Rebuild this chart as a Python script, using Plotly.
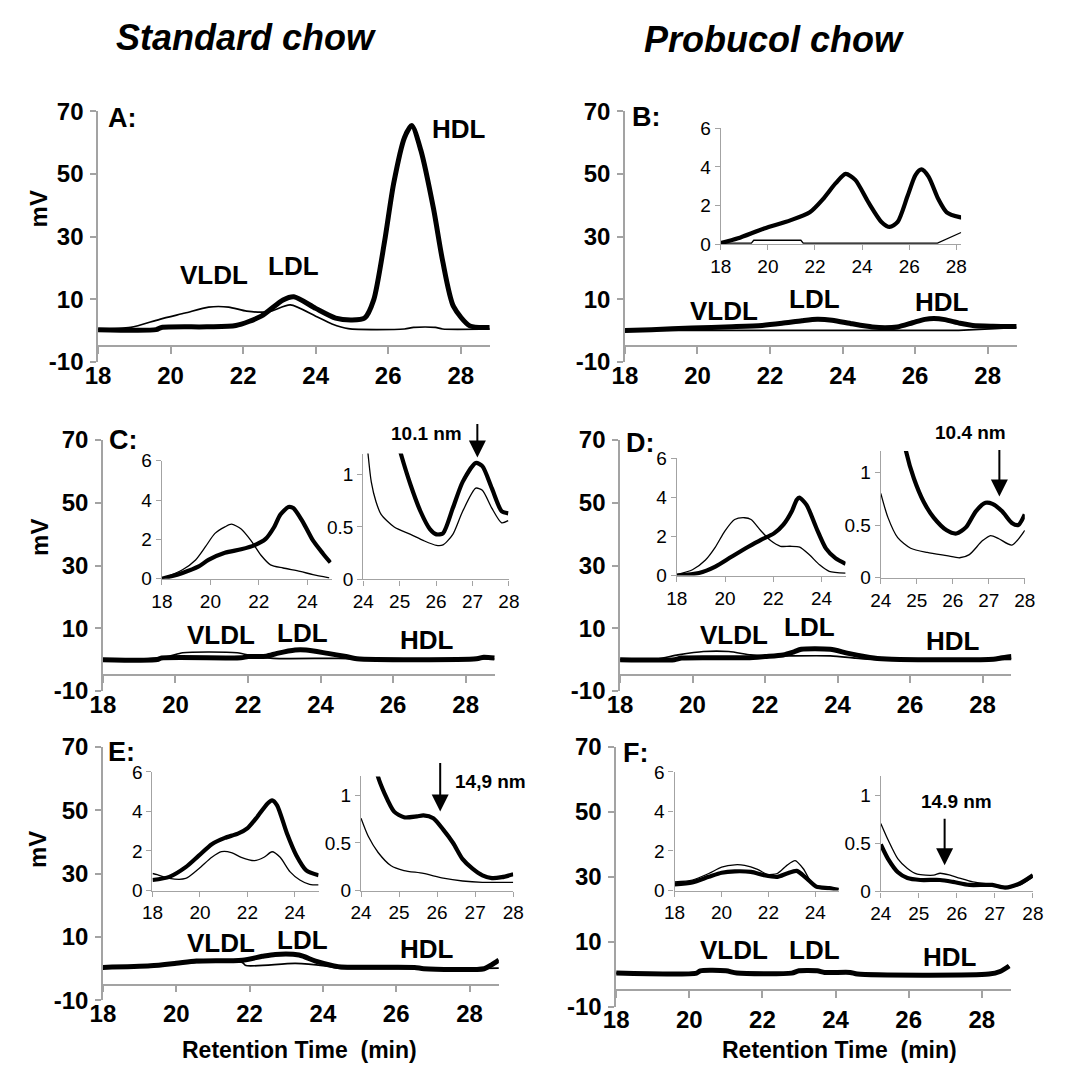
import plotly.graph_objects as go

# ---------------- data: retention time (min) vs detector signal (mV) ----------------
# Panel A (standard chow) – main trace
A_thick_x = [18, 19.6, 19.75, 21.0, 21.8, 22.5, 23.1, 23.4, 24.0, 24.55, 25.0, 25.35, 25.6, 25.9, 26.15, 26.45, 26.65, 26.9, 27.25, 27.5, 27.8, 28.25, 28.8]
A_thick_y = [0.3, 0.3, 1.0, 1.2, 1.6, 4.6, 9.8, 10.8, 7.1, 4.0, 3.4, 4.0, 9.8, 28.5, 47, 61.7, 65.5, 57.6, 38.9, 22.3, 7.7, 1.5, 1.0]
A_thin_x = [18, 18.9, 19.7, 20.4, 21.05, 21.6, 22.1, 22.7, 23.3, 24.0, 24.45, 24.9, 26.45, 26.7, 27.3, 27.5, 28.8]
A_thin_y = [0.4, 1.0, 3.6, 5.6, 7.5, 7.5, 6.2, 6.0, 8.2, 4.6, 2.1, 0.6, 0.5, 1.0, 1.0, 0.5, 0.5]

# Panel B (probucol chow) – main and inset share the same trace
B_thick_x = [18, 18.73, 19.84, 20.95, 21.78, 22.33, 22.88, 23.3, 23.71, 24.27, 24.82, 25.17, 25.51, 25.93, 26.27, 26.52, 26.82, 27.24, 27.59, 28.14, 28.8]
B_thick_y = [0.05, 0.3, 0.81, 1.23, 1.65, 2.32, 3.16, 3.64, 3.33, 2.16, 1.15, 0.89, 1.15, 2.49, 3.59, 3.87, 3.5, 2.32, 1.65, 1.4, 1.3]
B_thin_x = [18, 19.3, 19.4, 21.4, 21.5, 27.2, 28.2, 28.8]
B_thin_y = [0.05, 0.05, 0.2, 0.2, 0.05, 0.05, 0.6, 1.0]

# Panel C
C_thick_x = [18, 19.5, 19.6, 21.8, 22.0, 22.5, 22.8, 23.3, 23.6, 24.2, 24.7, 25.0, 28.3, 28.5, 28.8]
C_thick_y = [0, 0, 0.5, 0.6, 1.0, 1.1, 2.0, 3.1, 3.1, 2.0, 1.0, 0.3, 0.3, 0.8, 0.5]
C_thin_x = [18, 19.0, 19.8, 20.2, 21.7, 22.2, 22.7, 24.5, 25.0, 28.8]
C_thin_y = [0, 0.2, 1.0, 2.2, 2.2, 1.0, 0.4, 0.4, 0.2, 0.2]
CL_thick_x = [18, 18.85, 19.52, 19.92, 20.6, 21.27, 21.81, 22.28, 22.62, 22.89, 23.22, 23.42, 23.83, 24.23, 24.64, 24.95]
CL_thick_y = [0, 0.3, 0.63, 0.96, 1.32, 1.5, 1.7, 2.03, 2.61, 3.27, 3.65, 3.6, 2.86, 1.95, 1.29, 0.83]
CL_thin_x = [18, 18.85, 19.39, 19.79, 20.19, 20.6, 20.87, 21.27, 21.67, 22.08, 22.48, 23.0, 23.7, 24.23, 24.9]
CL_thin_y = [0, 0.46, 0.96, 1.62, 2.31, 2.64, 2.78, 2.53, 1.95, 1.21, 0.71, 0.55, 0.38, 0.21, 0.05]
CR_thick_x = [24.8, 25.03, 25.3, 25.57, 25.83, 26.01, 26.19, 26.46, 26.73, 27.09, 27.27, 27.53, 27.8, 27.98]
CR_thick_y = [1.5, 1.2, 0.9, 0.65, 0.48, 0.43, 0.44, 0.68, 0.93, 1.11, 1.08, 0.87, 0.65, 0.63]
CR_thin_x = [24.05, 24.13, 24.22, 24.35, 24.49, 24.85, 25.3, 25.66, 26.01, 26.19, 26.46, 26.73, 27.09, 27.27, 27.53, 27.8, 27.98]
CR_thin_y = [1.5, 1.2, 0.93, 0.74, 0.62, 0.5, 0.43, 0.37, 0.325, 0.33, 0.43, 0.65, 0.87, 0.85, 0.68, 0.54, 0.56]

# Panel D
D_thick_x = [18, 19.5, 19.7, 21.5, 22.0, 22.5, 22.8, 23.0, 23.8, 24.3, 25.0, 25.5, 28.3, 28.5, 28.8]
D_thick_y = [0, 0, 0.5, 0.6, 1.0, 1.5, 2.5, 3.3, 3.3, 2.0, 0.5, 0.1, 0.1, 0.5, 1.0]
D_thin_x = [18, 19.0, 19.6, 20.3, 21.0, 21.6, 22.0, 23.8, 24.5, 25.0, 28.8]
D_thin_y = [0, 0.2, 1.5, 2.6, 2.6, 1.5, 1.2, 1.2, 0.5, 0.1, 0.1]
DL_thick_x = [18, 18.92, 19.6, 20.27, 20.95, 21.49, 22.03, 22.43, 22.77, 22.97, 23.08, 23.38, 23.78, 24.19, 24.59, 25.0]
DL_thick_y = [0, 0.13, 0.46, 0.96, 1.46, 1.83, 2.16, 2.62, 3.29, 3.87, 3.99, 3.62, 2.46, 1.38, 0.88, 0.6]
DL_thin_x = [18, 18.65, 19.19, 19.6, 20.0, 20.4, 20.81, 21.08, 21.49, 21.89, 22.3, 22.7, 23.1, 23.51, 23.92, 24.32, 25.0]
DL_thin_y = [0.05, 0.3, 0.8, 1.46, 2.29, 2.87, 2.96, 2.87, 2.29, 1.79, 1.5, 1.5, 1.46, 1.05, 0.55, 0.22, 0.13]
DR_thick_x = [24.6, 24.7, 24.92, 25.19, 25.47, 25.83, 26.1, 26.37, 26.64, 26.91, 27.1, 27.37, 27.64, 27.82, 28.0]
DR_thick_y = [1.4, 1.2, 0.94, 0.72, 0.57, 0.45, 0.42, 0.48, 0.63, 0.71, 0.70, 0.63, 0.52, 0.5, 0.6]
DR_thin_x = [24.0, 24.2, 24.47, 24.83, 25.29, 25.83, 26.19, 26.46, 26.82, 27.05, 27.28, 27.64, 28.0]
DR_thin_y = [0.8, 0.57, 0.38, 0.28, 0.24, 0.21, 0.19, 0.22, 0.35, 0.4, 0.37, 0.31, 0.45]

# Panel E
E_thick_x = [18, 19.3, 20.0, 20.55, 21.8, 22.35, 22.7, 23.35, 23.8, 24.3, 24.5, 26.5, 26.75, 28.4, 28.6, 28.8]
E_thick_y = [0.4, 0.9, 1.7, 2.4, 2.7, 3.9, 4.5, 4.3, 2.4, 0.9, 0.5, 0.4, 0.0, 0.0, 1.2, 2.7]
E_thin_x = [18, 19.3, 20.55, 21.8, 21.9, 23.25, 24.05, 24.4, 28.8]
E_thin_y = [0.4, 0.9, 2.0, 2.0, 1.0, 1.7, 0.9, 0.2, 0.2]
EL_thick_x = [18, 18.71, 19.4, 19.95, 20.5, 21.05, 21.6, 22.01, 22.42, 22.84, 23.04, 23.25, 23.66, 24.07, 24.48, 25.0]
EL_thick_y = [0.53, 0.69, 1.18, 1.76, 2.34, 2.66, 2.88, 3.16, 3.73, 4.39, 4.56, 4.31, 2.91, 1.76, 1.02, 0.77]
EL_thin_x = [18, 18.2, 18.71, 19.4, 19.95, 20.5, 20.91, 21.32, 21.74, 22.29, 22.7, 23.04, 23.38, 23.8, 24.21, 24.62, 25.0]
EL_thin_y = [0.86, 0.8, 0.61, 0.61, 1.1, 1.68, 1.96, 1.92, 1.68, 1.51, 1.68, 1.96, 1.68, 0.94, 0.53, 0.31, 0.28]
ER_thick_x = [24.35, 24.43, 24.62, 24.87, 25.13, 25.47, 25.64, 25.9, 26.16, 26.42, 26.67, 26.93, 27.19, 27.44, 27.7, 28.0]
ER_thick_y = [1.4, 1.22, 1.02, 0.83, 0.77, 0.78, 0.79, 0.76, 0.64, 0.5, 0.33, 0.23, 0.16, 0.13, 0.14, 0.17]
ER_thin_x = [24.0, 24.19, 24.45, 24.79, 25.13, 25.64, 26.16, 26.67, 27.19, 28.0]
ER_thin_y = [0.76, 0.57, 0.4, 0.26, 0.21, 0.18, 0.13, 0.1, 0.086, 0.086]

# Panel F
F_thick_x = [18, 20.2, 20.3, 21.0, 21.3, 22.8, 23.0, 23.5, 23.7, 24.4, 24.6, 28.2, 28.5, 28.75]
F_thick_y = [0.3, 0.3, 1.0, 1.0, 0.3, 0.3, 1.0, 1.0, 0.5, 0.5, 0.0, 0.0, 0.8, 2.5]
F_thin_x = [18, 20.2, 20.4, 21.0, 21.3, 22.8, 23.0, 23.5, 23.7, 24.4, 24.6, 28.2, 28.5, 28.75]
F_thin_y = [0.3, 0.4, 1.1, 1.1, 0.4, 0.4, 1.3, 1.3, 0.5, 0.5, 0.1, 0.1, 0.8, 2.5]
FL_thick_x = [18, 18.76, 19.46, 20.01, 20.57, 21.26, 21.82, 22.38, 22.79, 23.21, 23.63, 24.04, 24.6, 25.0]
FL_thick_y = [0.31, 0.41, 0.69, 0.9, 0.97, 0.94, 0.77, 0.69, 0.86, 0.99, 0.61, 0.2, 0.12, 0.03]
FL_thin_x = [18, 18.76, 19.46, 20.01, 20.57, 20.99, 21.54, 21.96, 22.38, 22.79, 23.14, 23.49, 23.9, 24.46, 25.0]
FL_thin_y = [0.44, 0.53, 0.86, 1.18, 1.3, 1.27, 1.07, 0.81, 0.86, 1.27, 1.51, 1.1, 0.31, 0.15, 0.08]
FR_thick_x = [24.0, 24.19, 24.45, 24.7, 25.04, 25.56, 25.9, 26.33, 26.93, 27.27, 27.61, 28.0]
FR_thick_y = [0.49, 0.34, 0.2, 0.14, 0.12, 0.12, 0.1, 0.068, 0.068, 0.04, 0.075, 0.17]
FR_thin_x = [24.0, 24.19, 24.45, 24.7, 24.96, 25.39, 25.56, 25.82, 26.07, 26.42, 26.93, 27.36, 27.7, 28.0]
FR_thin_y = [0.71, 0.54, 0.34, 0.24, 0.18, 0.17, 0.19, 0.17, 0.14, 0.1, 0.075, 0.05, 0.075, 0.15]

# tick labels
MAIN_XTICKS = [18, 20, 22, 24, 26, 28]
MAIN_YTICKS = [-10, 10, 30, 50, 70]
MAIN_YTEXT = ["-10", "10", "30", "50", "70"]
WIDE_INSET_XTICKS = [18, 20, 22, 24, 26, 28]
LEFT_INSET_XTICKS = [18, 20, 22, 24]
RIGHT_INSET_XTICKS = [24, 25, 26, 27, 28]
LEFT_INSET_YTICKS = [0, 2, 4, 6]
RIGHT_INSET_YTICKS = [0, 0.5, 1]
RIGHT_INSET_YTEXT = ["0", "0.5", "1"]

# ---------------- figure ----------------
W, H = 1070, 1079
AXC = "#a3a3a3"
FONT = "Liberation Sans, Arial, Helvetica, sans-serif"

fig = go.Figure()
lay = dict(width=W, height=H, margin=dict(l=0, r=0, t=0, b=0),
           paper_bgcolor="white", plot_bgcolor="rgba(0,0,0,0)",
           showlegend=False, hovermode=False)
counter = {"n": 0}


def px_x(p):
    return p / W


def px_y(p):
    return 1 - p / H


def axes(x0, x1, ytop, ybot, xrange, yrange, xticks, yticks, kind, ytext=None):
    counter["n"] += 1
    n = counter["n"]
    s = "" if n == 1 else str(n)
    if kind == "main":
        tf = dict(family=FONT, size=24, color="black", weight="bold")
        xlen, ylen, lw = 7, 6, 1.5
    else:
        tf = dict(family=FONT, size=19, color="black")
        xlen, ylen, lw = 5, 5, 1.3
    xa = dict(domain=[px_x(x0), px_x(x1)], range=xrange, anchor="y" + s,
              tickvals=xticks, ticks="outside", ticklen=xlen, tickcolor=AXC, tickwidth=lw,
              showline=True, linecolor=AXC, linewidth=lw, showgrid=False, zeroline=False,
              tickfont=tf, fixedrange=True)
    ya = dict(domain=[px_y(ybot), px_y(ytop)], range=yrange, anchor="x" + s,
              tickvals=yticks, ticks="outside", ticklen=ylen, tickcolor=AXC, tickwidth=lw,
              showline=True, linecolor=AXC, linewidth=lw, showgrid=False, zeroline=False,
              tickfont=tf, fixedrange=True)
    if ytext is not None:
        ya["ticktext"] = ytext
    if kind == "main":
        ypos = ybot - (ybot - ytop) * 5 / 80  # horizontal axis crosses at -5 mV
        xa.update(anchor="free", position=px_y(ypos), ticklabelstandoff=1)
        ya.update(ticklabelstandoff=2)
    lay["xaxis" + s] = xa
    lay["yaxis" + s] = ya
    return "x" + s, "y" + s


def line(ax, xs, ys, w, shape="spline"):
    fig.add_trace(go.Scatter(x=xs, y=ys, xaxis=ax[0], yaxis=ax[1], mode="lines",
                             line=dict(color="black", width=w, shape=shape, smoothing=0.7),
                             hoverinfo="skip"))


def pair(ax, tx, ty, kx, ky, thin_w, thick_w, thin_shape="spline"):
    line(ax, tx, ty, thin_w, thin_shape)
    line(ax, kx, ky, thick_w)


MAIN_Y = [-10, 70]
MAIN_X = [18, 28.8]

# A
axA = axes(87, 487.7, 100, 356.8, MAIN_X, MAIN_Y, MAIN_XTICKS, MAIN_YTICKS, "main", MAIN_YTEXT)
pair(axA, A_thin_x, A_thin_y, A_thick_x, A_thick_y, 1.7, 5)
# B
axB = axes(626, 1026.7, 100, 356.8, MAIN_X, MAIN_Y, MAIN_XTICKS, MAIN_YTICKS, "main", MAIN_YTEXT)
pair(axB, B_thin_x, B_thin_y, B_thick_x, B_thick_y, 1.7, 5, "linear")
axBi = axes(724, 969.8, 117.3, 236, [18, 28.2], [0, 6], WIDE_INSET_XTICKS, LEFT_INSET_YTICKS, "inset")
pair(axBi, B_thin_x, B_thin_y, B_thick_x, B_thick_y, 1.3, 4.2, "linear")
# C
axC = axes(92, 492.7, 437, 694.4, MAIN_X, MAIN_Y, MAIN_XTICKS, MAIN_YTICKS, "main", MAIN_YTEXT)
pair(axC, C_thin_x, C_thin_y, C_thick_x, C_thick_y, 1.7, 5)
axCL = axes(152.3, 325.9, 458.3, 579.3, [18, 25], [0, 6], LEFT_INSET_XTICKS, LEFT_INSET_YTICKS, "inset")
pair(axCL, CL_thin_x, CL_thin_y, CL_thick_x, CL_thick_y, 1.3, 4.2)
axCR = axes(358.3, 507.3, 450.8, 580, [24, 28], [0, 1.2], RIGHT_INSET_XTICKS, RIGHT_INSET_YTICKS, "inset", RIGHT_INSET_YTEXT)
pair(axCR, CR_thin_x, CR_thin_y, CR_thick_x, CR_thick_y, 1.3, 4.2)
# D
axD = axes(621, 1021.4, 437, 694.4, MAIN_X, MAIN_Y, MAIN_XTICKS, MAIN_YTICKS, "main", MAIN_YTEXT)
pair(axD, D_thin_x, D_thin_y, D_thick_x, D_thick_y, 1.7, 5)
axDL = axes(679, 851.7, 455.7, 576, [18, 25], [0, 6], LEFT_INSET_XTICKS, LEFT_INSET_YTICKS, "inset")
pair(axDL, DL_thin_x, DL_thin_y, DL_thick_x, DL_thick_y, 1.3, 4.2)
axDR = axes(887.7, 1035, 448.3, 578.3, [24, 28], [0, 1.2], RIGHT_INSET_XTICKS, RIGHT_INSET_YTICKS, "inset", RIGHT_INSET_YTEXT)
pair(axDR, DR_thin_x, DR_thin_y, DR_thick_x, DR_thick_y, 1.3, 4.2)
# E
axE = axes(92, 497, 751.7, 1011.7, MAIN_X, MAIN_Y, MAIN_XTICKS, MAIN_YTICKS, "main", MAIN_YTEXT)
pair(axE, E_thin_x, E_thin_y, E_thick_x, E_thick_y, 1.7, 5)
axEL = axes(142.7, 312.6, 777.3, 899, [18, 25], [0, 6], LEFT_INSET_XTICKS, LEFT_INSET_YTICKS, "inset")
pair(axEL, EL_thin_x, EL_thin_y, EL_thick_x, EL_thick_y, 1.3, 4.2)
axER = axes(356, 511.7, 782, 899, [24, 28], [0, 1.2], RIGHT_INSET_XTICKS, RIGHT_INSET_YTICKS, "inset", RIGHT_INSET_YTEXT)
pair(axER, ER_thin_x, ER_thin_y, ER_thick_x, ER_thick_y, 1.3, 4.2)
# F
axF = axes(617, 1020.9, 751.7, 1018, MAIN_X, MAIN_Y, MAIN_XTICKS, MAIN_YTICKS, "main", MAIN_YTEXT)
pair(axF, F_thin_x, F_thin_y, F_thick_x, F_thick_y, 1.7, 5)
axFL = axes(676.7, 844.7, 777.3, 899, [18, 25], [0, 6], LEFT_INSET_XTICKS, LEFT_INSET_YTICKS, "inset")
pair(axFL, FL_thin_x, FL_thin_y, FL_thick_x, FL_thick_y, 1.3, 4.2)
axFR = axes(887.7, 1043.3, 782, 900, [24, 28], [0, 1.2], RIGHT_INSET_XTICKS, RIGHT_INSET_YTICKS, "inset", RIGHT_INSET_YTEXT)
pair(axFR, FR_thin_x, FR_thin_y, FR_thick_x, FR_thick_y, 1.3, 4.2)

# ---------------- text ----------------
ann = []


def txt(px, py, text, size, italic=False, angle=0, xanchor="center"):
    ann.append(dict(x=px_x(px), y=px_y(py), xref="paper", yref="paper", text=text,
                    showarrow=False, xanchor=xanchor, yanchor="middle", textangle=angle,
                    font=dict(family=FONT, size=size, color="black", weight="bold",
                              style="italic" if italic else "normal")))


def arrow(px, ptail, phead):
    ann.append(dict(x=px_x(px), y=px_y(phead), xref="paper", yref="paper", text="",
                    showarrow=True, arrowhead=2, arrowsize=1.7, arrowwidth=2,
                    arrowcolor="black", ax=0, ay=-(phead - ptail)))


txt(238, 24, "Standard chow", 36, italic=True)
txt(778, 26, "Probucol chow", 36, italic=True)

for p in [(27, 200), (27, 537), (25, 857)]:
    txt(p[0], p[1], "mV", 24, angle=-90)
txt(293, 1063, "Retention Time\u00a0 (min)", 23)
txt(845, 1063, "Retention Time\u00a0 (min)", 23)

for lab, p in [("A:", (112, 107)), ("B:", (648, 106)), ("C:", (113, 437)),
               ("D:", (642, 440)), ("E:", (111, 757)), ("F:", (637, 758))]:
    txt(p[0], p[1], lab, 27)

for lab, p in [("VLDL", (206, 268)), ("LDL", (287, 258)), ("HDL", (456, 118)),
               ("VLDL", (727, 305)), ("LDL", (820, 292)), ("HDL", (950, 295)),
               ("VLDL", (213, 637)), ("LDL", (296, 635)), ("HDL", (423, 642)),
               ("VLDL", (738, 637)), ("LDL", (815, 629)), ("HDL", (962, 643)),
               ("VLDL", (213, 953)), ("LDL", (296, 950)), ("HDL", (423, 959)),
               ("VLDL", (738, 960)), ("LDL", (820, 960)), ("HDL", (958, 967))]:
    txt(p[0], p[1], lab, 26)

txt(423, 430, "10.1 nm", 19)
txt(979, 429, "10.4 nm", 19)
txt(450, 787, "14,9 nm", 19, xanchor="left")
txt(965, 808, "14.9 nm", 19)
arrow(475, 420, 455)
arrow(1009, 447, 495)
arrow(437, 768, 818)
arrow(953, 825, 873)

lay["annotations"] = ann
fig.update_layout(**lay)
fig.write_html("out.html")
